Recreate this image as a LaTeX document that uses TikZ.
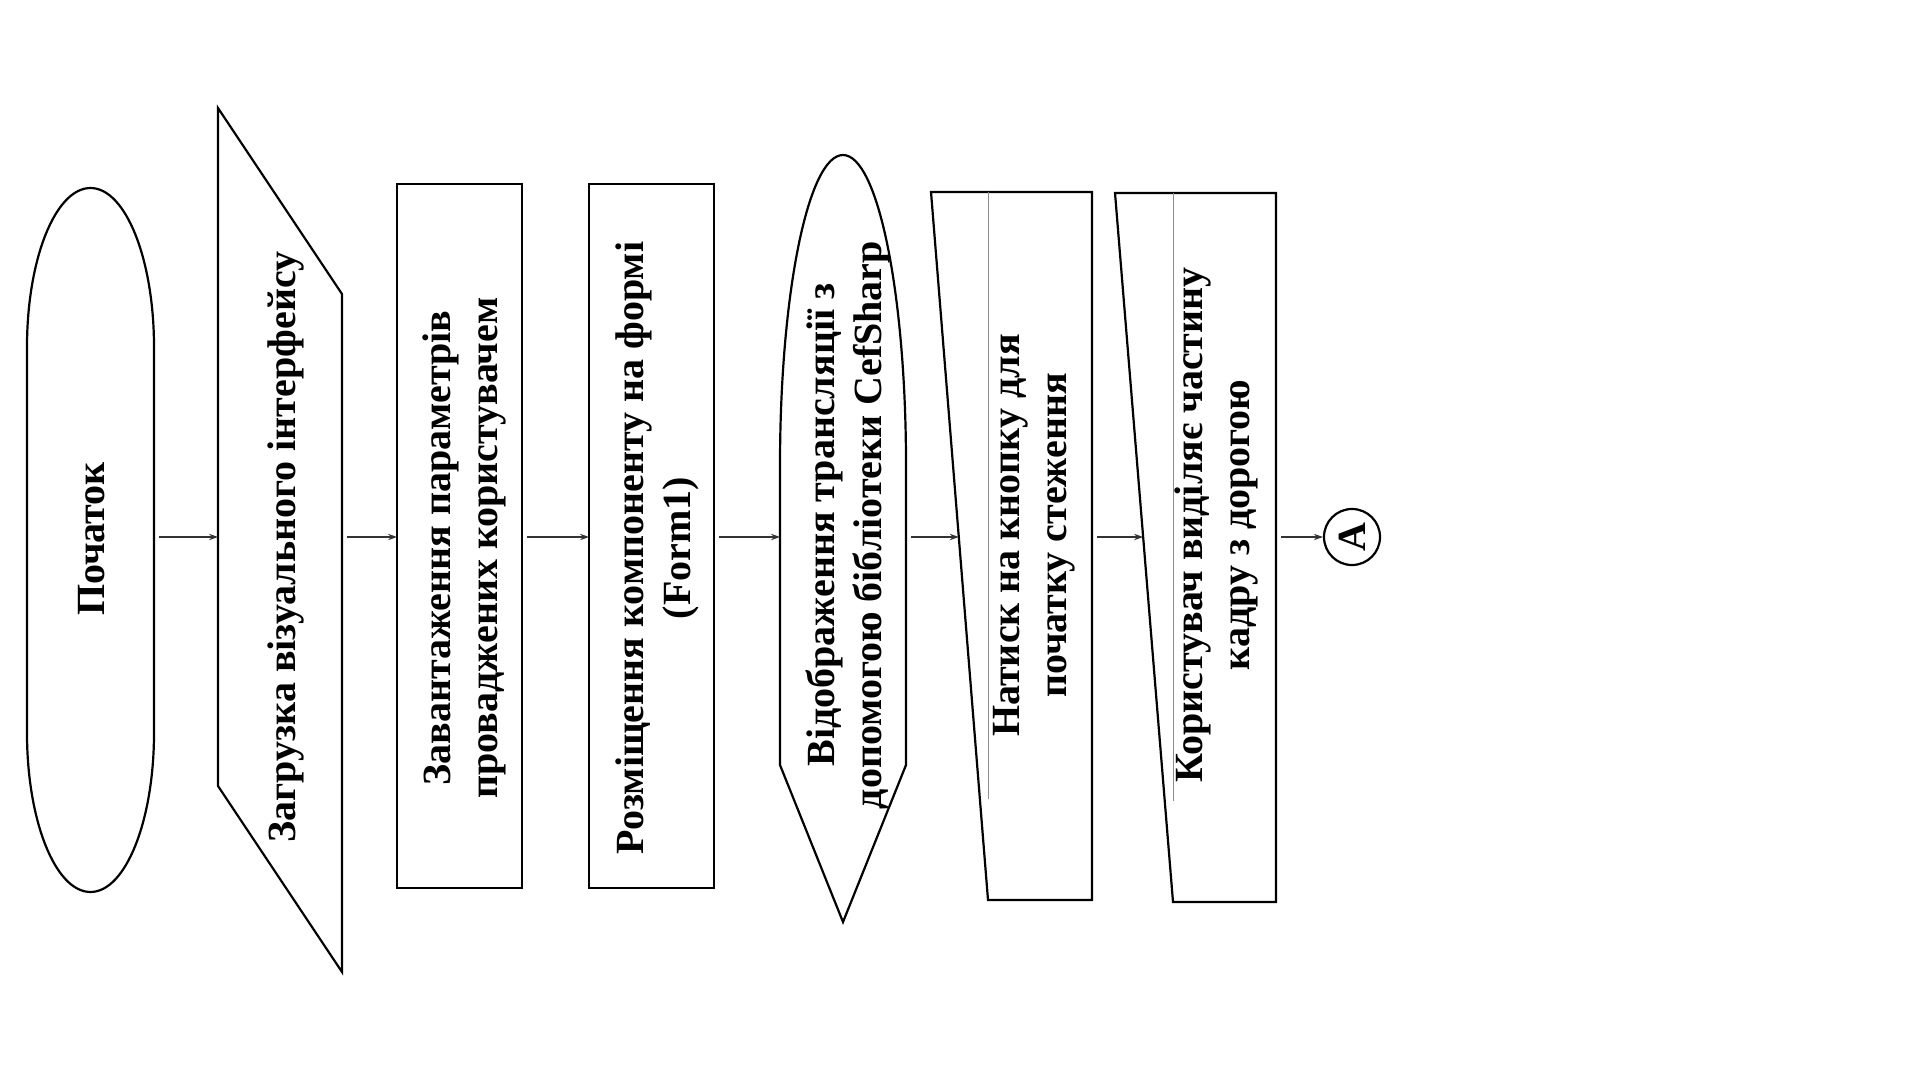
\documentclass[tikz,border=0pt]{standalone}
\usepackage{fontspec}
\setmainfont{Liberation Serif}
\usetikzlibrary{arrows.meta}

\begin{document}
\begin{tikzpicture}[x=0.5pt,y=-0.5pt,
  shapeline/.style={line width=1.1pt},
  thinline/.style={line width=0.5pt, draw=black!45},
  flow/.style={line width=0.6pt, draw=black!80, shorten <=2.5pt, -{Stealth[length=4.5pt,width=3.2pt]}},
  txt/.style={rotate=90, align=center, inner sep=0pt, font=\fontsize{20}{23.5}\selectfont\bfseries}]
\useasboundingbox (0,0) rectangle (1920,1080);% page 1920x1080 px, y runs downwards
\draw[shapeline] (27,347) -- (27,733) arc[start angle=180,end angle=0,x radius=63.5,y radius=159] -- (154,347) arc[start angle=0,end angle=-180,x radius=63.5,y radius=159] -- cycle;% start terminator
\node[txt] (start) at (92,539) {Початок};
\coordinate (startE) at (154,537);
\draw[shapeline] (218,108) -- (342,294) -- (342,972) -- (218,786) -- cycle;% data input
\node[txt] (gui) at (285.5,547) {Загрузка візуального інтерфейсу};
\coordinate (guiW) at (218,537);
\coordinate (guiE) at (342,537);
\draw[shapeline] (397,184) rectangle (522,888);% process
\node[txt] (params) at (464,548) {Завантаження параметрів\\проваджених користувачем};
\coordinate (paramsW) at (397,537);
\coordinate (paramsE) at (522,537);
\draw[shapeline] (589,184) rectangle (714,888);% process
\node[txt] (form) at (657,548) {Розміщення компоненту на формі\\(Form1)};
\coordinate (formW) at (589,537);
\coordinate (formE) at (714,537);
\draw[shapeline] (780,765) -- (780,465) arc[start angle=180,end angle=360,x radius=63,y radius=310] -- (906,765) -- (843,922) -- cycle;% display
\node[txt] (stream) at (848,525) {Відображення трансляції з\\допомогою бібліотеки CefSharp};
\coordinate (streamW) at (780,537);
\coordinate (streamE) at (906,537);
\draw[shapeline] (931,192) -- (1092,192) -- (1092,900) -- (988,900) -- cycle;% manual input
\draw[thinline] (988,192) -- (988,799);
\node[txt] (track) at (1034.6,535.5) {Натиск на кнопку для\\початку стеження};
\coordinate (trackW) at (958.8,537);
\coordinate (trackE) at (1092,537);
\draw[shapeline] (1115,193) -- (1276,193) -- (1276,902) -- (1173,902) -- cycle;% manual input
\draw[thinline] (1173,193) -- (1173,801);
\node[txt] (select) at (1216,525) {Користувач виділяє частину\\кадру з дорогою};
\coordinate (selectW) at (1143.1,537);
\coordinate (selectE) at (1276,537);
\node[txt, draw, circle, shapeline, minimum size=28pt] (conA) at (1352,537) {A};% connector
\draw[flow] (startE) -- (guiW);
\draw[flow] (guiE) -- (paramsW);
\draw[flow] (paramsE) -- (formW);
\draw[flow] (formE) -- (streamW);
\draw[flow] (streamE) -- (trackW);
\draw[flow] (trackE) -- (selectW);
\draw[flow] (selectE) -- (conA);
\end{tikzpicture}
\end{document}
